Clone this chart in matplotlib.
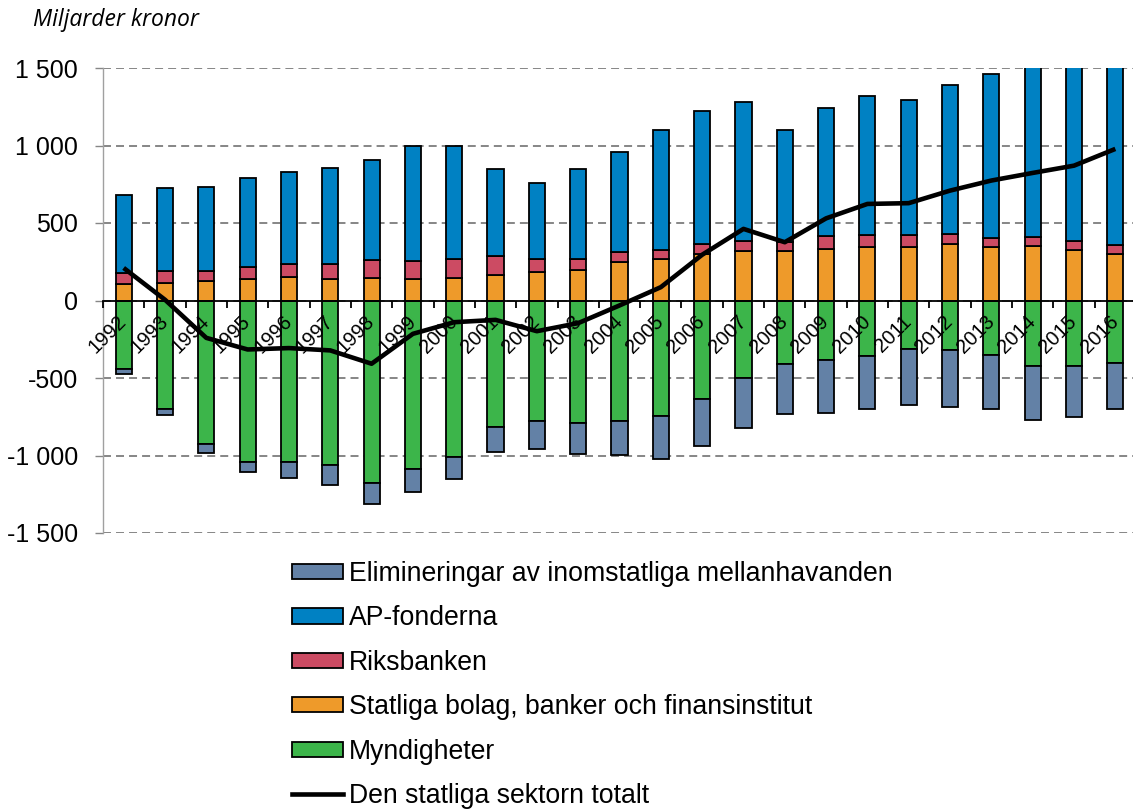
import matplotlib
matplotlib.use("Agg")
import matplotlib.pyplot as plt
import numpy as np
from matplotlib.patches import Patch
from matplotlib.lines import Line2D

years = [str(y) for y in range(1992, 2017)]

myndigheter = [-441, -698, -928, -1044, -1044, -1060, -1180, -1090, -1010, -817, -776, -793, -778,
               -746, -636, -501, -411, -385, -355, -316, -320, -350, -421, -425, -406]
elimineringar = [-32, -41, -58, -65, -101, -129, -135, -144, -142, -163, -180, -198, -219,
                 -275, -303, -320, -324, -339, -346, -355, -368, -349, -351, -327, -297]
statliga_bolag = [107, 110, 129, 137, 150, 140, 144, 137, 142, 166, 181, 198, 251,
                  269, 301, 318, 322, 335, 346, 348, 367, 348, 350, 329, 297]
riksbanken = [69, 83, 64, 78, 84, 94, 116, 116, 124, 118, 88, 68, 63,
              60, 66, 67, 54, 80, 78, 76, 65, 56, 58, 53, 60]
ap_fonderna = [507, 535, 542, 576, 598, 623, 645, 746, 733, 567, 487, 583, 647,
               771, 856, 894, 722, 827, 893, 867, 961, 1060, 1187, 1240, 1324]
totalt = [210, 5, -241, -316, -307, -322, -408, -215, -140, -125, -198, -146, -32,
          86, 295, 462, 376, 530, 623, 628, 709, 774, 823, 870, 978]

yticks = [-1500, -1000, -500, 0, 500, 1000, 1500]
ytick_labels = ["-1 500", "-1 000", "-500", "0", "500", "1 000", "1 500"]

labels = ["Elimineringar av inomstatliga mellanhavanden", "AP-fonderna", "Riksbanken",
          "Statliga bolag, banker och finansinstitut", "Myndigheter", "Den statliga sektorn totalt"]

c_elim = "#6381A6"
c_ap = "#0081C3"
c_riks = "#CC4B63"
c_bolag = "#EE9A2A"
c_mynd = "#3CB54A"

W, H = 1133, 811
fig = plt.figure(figsize=(W / 100, H / 100), dpi=100)
ax = fig.add_axes([103 / W, 1 - 533 / H, (1136 - 103) / W, (533 - 68) / H])

x = np.arange(len(years))
bw = 0.39
ekw = dict(edgecolor="black", linewidth=1.3, zorder=3)

bol = np.array(statliga_bolag)
rik = np.array(riksbanken)
ap = np.array(ap_fonderna)
my = np.array(myndigheter)
el = np.array(elimineringar)

ax.bar(x, my, bw, color=c_mynd, **ekw)
ax.bar(x, el, bw, bottom=my, color=c_elim, **ekw)
ax.bar(x, bol, bw, color=c_bolag, **ekw)
ax.bar(x, rik, bw, bottom=bol, color=c_riks, **ekw)
ax.bar(x, ap, bw, bottom=bol + rik, color=c_ap, **ekw)
ax.plot(x, totalt, color="black", linewidth=3.3, zorder=6, solid_capstyle="butt")

ax.set_xlim(-0.5, len(years) - 0.5)
ax.set_ylim(-1500, 1500)
ax.set_yticks(yticks)
ax.set_yticklabels(ytick_labels, fontsize=18, family="Liberation Sans")
ax.yaxis.grid(True, color="#868686", linewidth=1.4, linestyle=(0, (4.1, 2.6)))
ax.set_axisbelow(True)

for s in ["top", "right"]:
    ax.spines[s].set_visible(False)
ax.spines["left"].set_color("#A0A0A0")
ax.spines["left"].set_linewidth(1.0)
ax.spines["bottom"].set_position(("data", 0))
ax.spines["bottom"].set_color("black")
ax.spines["bottom"].set_linewidth(1.3)
ax.spines["bottom"].set_zorder(4)
ax.tick_params(axis="y", length=6, color="#868686", width=1.0, pad=12)

ax.set_xticks(x)
ax.set_xticklabels(years, rotation=45, ha="right", va="center", rotation_mode="anchor",
                   fontsize=14.5, family="Liberation Sans")
ax.set_xticks(np.arange(len(years) + 1) - 0.5, minor=True)
ax.tick_params(axis="x", which="major", length=0, pad=13)
ax.tick_params(axis="x", which="minor", length=5, color="black", width=1.3, direction="out")
ax.xaxis.set_zorder(5)

fig.text(33 / W, 1 - 20 / H, "Miljarder kronor", fontsize=16.5, style="italic",
         family="Open Sans", ha="left", va="center")

handles = [Patch(facecolor=c, edgecolor="black", linewidth=1.3)
           for c in [c_elim, c_ap, c_riks, c_bolag, c_mynd]]
handles.append(Line2D([0], [0], color="black", linewidth=3.3))
leg = fig.legend(handles, labels, loc="upper left", bbox_to_anchor=(292 / W, 1 - 561 / H),
                 frameon=False, prop={"family": "Liberation Sans", "size": 19.2},
                 handlelength=1.9, handleheight=0.5, handletextpad=0.22, labelspacing=0.69,
                 borderaxespad=0, borderpad=0)

fig.savefig("out.png", dpi=100)
